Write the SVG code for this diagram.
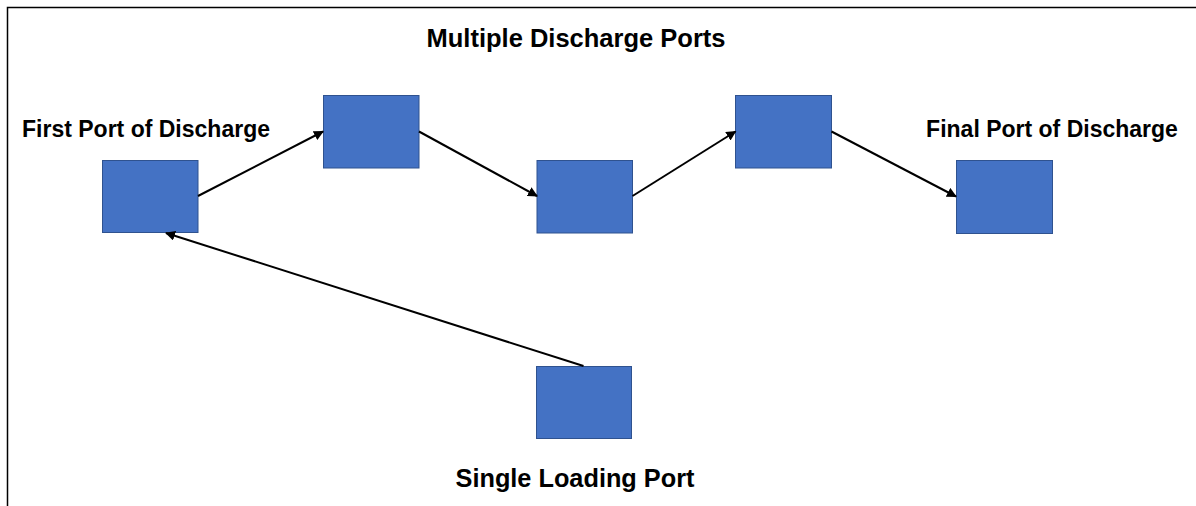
<svg xmlns="http://www.w3.org/2000/svg" width="1196" height="506" viewBox="0 0 1196 506">
  <style>
    .port { fill: #4472C4; stroke: #2F528F; stroke-width: 1; }
    .link { stroke: #000; stroke-width: 2; fill: none; marker-end: url(#head); }
    .label { font-family: "Liberation Sans", Arial, sans-serif; font-weight: bold; fill: #000; }
    .frame { stroke: #000; stroke-width: 1.5; fill: none; }
  </style>
  <defs>
    <marker id="head" viewBox="0 0 10 10" refX="9" refY="5" markerWidth="5" markerHeight="5" orient="auto" markerUnits="strokeWidth">
      <path d="M0,0 L10,5 L0,10 z" fill="#000"/>
    </marker>
  </defs>
  <rect width="1196" height="506" fill="#fff"/>
  <!-- page frame: top and left edges -->
  <path class="frame" d="M7.5,506 V7.5 H1196"/>

  <text class="label" x="576" y="46.5" font-size="25.5" text-anchor="middle">Multiple Discharge Ports</text>

  <g id="first-port">
    <rect class="port" x="102.5" y="160.5" width="95.5" height="72"/>
    <text class="label" x="146" y="136.5" font-size="23" text-anchor="middle">First Port of Discharge</text>
  </g>
  <g id="port-2">
    <rect class="port" x="323.5" y="95.5" width="95.5" height="72.5"/>
  </g>
  <g id="port-3">
    <rect class="port" x="537" y="160.5" width="95.5" height="72.5"/>
  </g>
  <g id="port-4">
    <rect class="port" x="735.5" y="95.5" width="96" height="72.5"/>
  </g>
  <g id="final-port">
    <rect class="port" x="956.5" y="160.5" width="96" height="73"/>
    <text class="label" x="1052" y="136.5" font-size="23" text-anchor="middle">Final Port of Discharge</text>
  </g>
  <g id="loading-port">
    <rect class="port" x="536.5" y="366.5" width="95" height="72"/>
    <text class="label" x="575" y="487.3" font-size="25.3" text-anchor="middle">Single Loading Port</text>
  </g>

  <g id="connectors">
    <line class="link" x1="198" y1="196" x2="323" y2="131.5"/>
    <line class="link" x1="419" y1="131.5" x2="537" y2="196"/>
    <line class="link" x1="632.5" y1="196" x2="735.5" y2="131.5"/>
    <line class="link" x1="831.5" y1="131.5" x2="956" y2="196.5"/>
    <line class="link" x1="583.5" y1="366" x2="166" y2="233"/>
  </g>
</svg>
